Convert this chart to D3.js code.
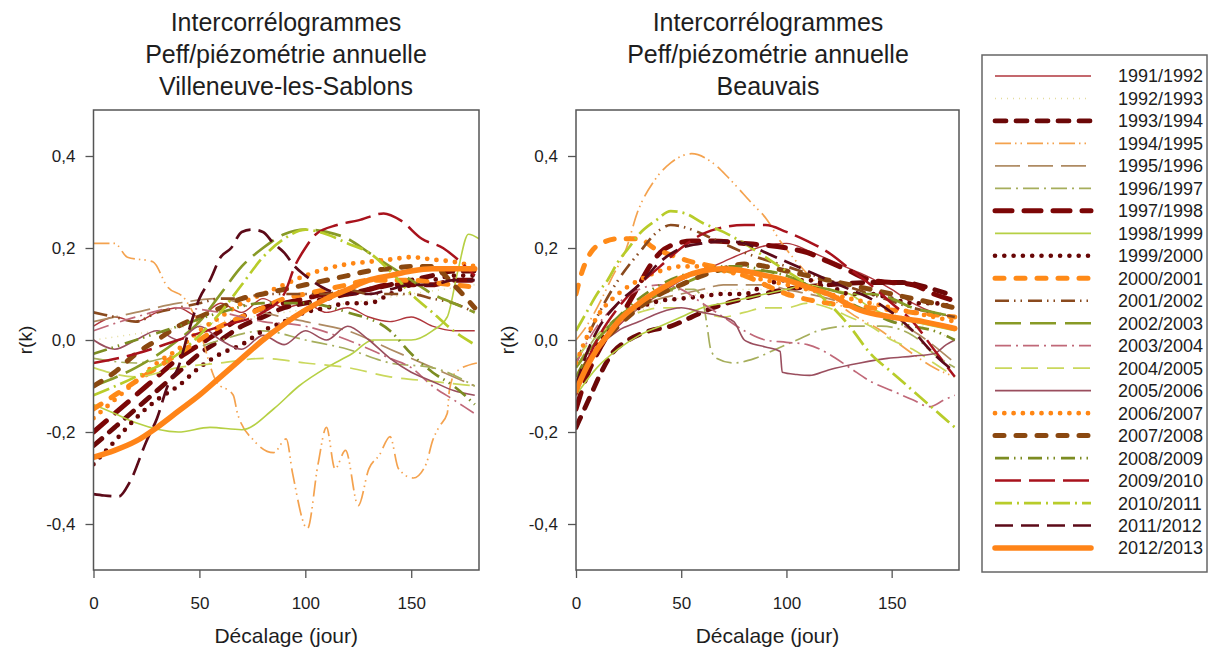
<!DOCTYPE html>
<html><head><meta charset="utf-8">
<script src="https://cdn.jsdelivr.net/npm/d3@7"></script>
<style>body{margin:0;background:#fff}svg{display:block}text{font-family:"Liberation Sans",Arial,sans-serif;fill:#1e1e1e}</style>
</head><body>
<script>
// ---------- DATA ----------
const seriesLabels = ["1991/1992","1992/1993","1993/1994","1994/1995","1995/1996","1996/1997","1997/1998","1998/1999","1999/2000","2000/2001","2001/2002","2002/2003","2003/2004","2004/2005","2005/2006","2006/2007","2007/2008","2008/2009","2009/2010","2010/2011","2011/2012","2012/2013"];
const xTickValues = [0,50,100,150];
const yTickValues = [0.4,0.2,0,-0.2,-0.4];
const panelTitles = [["Intercorrélogrammes","Peff/piézométrie annuelle","Villeneuve-les-Sablons"],["Intercorrélogrammes","Peff/piézométrie annuelle","Beauvais"]];
const xAxisTitle = "Décalage (jour)";
const yAxisTitle = "r(k)";

// Villeneuve-les-Sablons : [lag (jour), r(k)]
const villeneuve = [
 /*1991/1992*/[[0,0.03],[10,0.05],[20,0.04],[30,0.06],[40,0.07],[50,0.05],[60,0.08],[70,0.06],[80,0.09],[90,0.07],[100,0.08],[110,0.06],[120,0.07],[130,0.05],[140,0.04],[150,0.05],[160,0.03],[170,0.02],[180,0.02]],
 /*1992/1993*/[[0,0.0],[30,0.02],[60,0.04],[90,0.06],[120,0.08],[150,0.1],[180,0.12]],
 /*1993/1994*/[[0,-0.23],[10,-0.19],[20,-0.15],[30,-0.11],[40,-0.07],[50,-0.03],[60,0.0],[70,0.03],[80,0.05],[90,0.07],[100,0.08],[110,0.09],[120,0.1],[130,0.11],[140,0.12],[150,0.13],[160,0.14],[170,0.15],[180,0.15]],
 /*1994/1995*/[[0,0.21],[10,0.21],[16,0.18],[28,0.17],[35,0.115],[43,0.09],[48,0.05],[58,-0.09],[66,-0.12],[68,-0.16],[76,-0.22],[85,-0.245],[91,-0.215],[94,-0.29],[101,-0.41],[106,-0.27],[110,-0.19],[114,-0.28],[119,-0.24],[125,-0.36],[130,-0.28],[135,-0.25],[140,-0.21],[144,-0.28],[151,-0.3],[157,-0.27],[160,-0.22],[163,-0.19],[167,-0.16],[168,-0.11],[171,-0.07],[181,-0.05]],
 /*1995/1996*/[[0,0.04],[20,0.06],[40,0.08],[60,0.09],[80,0.06],[100,0.04],[120,0.02],[140,-0.02],[160,-0.06],[180,-0.1]],
 /*1996/1997*/[[0,-0.04],[20,-0.05],[40,-0.03],[60,0.0],[80,0.02],[100,0.0],[120,-0.02],[140,-0.05],[160,-0.06],[180,-0.1]],
 /*1997/1998*/[[0,-0.2],[10,-0.16],[20,-0.12],[30,-0.08],[40,-0.04],[50,-0.01],[60,0.02],[70,0.05],[80,0.07],[90,0.08],[100,0.09],[110,0.1],[120,0.1],[130,0.11],[140,0.12],[150,0.12],[160,0.12],[170,0.13],[180,0.13]],
 /*1998/1999*/[[0,-0.14],[10,-0.16],[20,-0.18],[40,-0.2],[55,-0.19],[70,-0.195],[85,-0.15],[97,-0.1],[110,-0.06],[122,-0.03],[132,0.0],[150,0.0],[160,0.02],[167,0.05],[172,0.15],[177,0.23],[182,0.22]],
 /*1999/2000*/[[0,-0.27],[10,-0.22],[20,-0.17],[30,-0.13],[40,-0.1],[50,-0.06],[60,-0.03],[70,-0.01],[80,0.02],[90,0.04],[100,0.06],[110,0.07],[120,0.08],[130,0.08],[140,0.1],[150,0.12],[160,0.13],[170,0.14],[180,0.14]],
 /*2000/2001*/[[0,-0.15],[10,-0.12],[20,-0.09],[30,-0.06],[40,-0.03],[50,0.0],[60,0.03],[70,0.05],[80,0.07],[90,0.09],[100,0.1],[110,0.11],[120,0.12],[130,0.13],[140,0.13],[150,0.13],[160,0.125],[170,0.12],[180,0.115]],
 /*2001/2002*/[[0,0.06],[10,0.05],[20,0.04],[30,0.06],[40,0.07],[50,0.08],[60,0.09],[70,0.09],[80,0.1],[90,0.1],[100,0.1],[110,0.1],[120,0.11],[130,0.1],[140,0.1],[150,0.1],[160,0.09],[170,0.08],[180,0.06]],
 /*2002/2003*/[[0,-0.1],[20,-0.06],[40,0.0],[50,0.04],[60,0.1],[70,0.16],[80,0.2],[90,0.23],[100,0.24],[110,0.235],[120,0.22],[130,0.19],[140,0.16],[150,0.13],[160,0.1],[170,0.08],[180,0.06]],
 /*2003/2004*/[[0,0.02],[20,0.05],[40,0.07],[60,0.06],[80,0.04],[100,0.03],[120,0.0],[140,-0.04],[150,-0.06],[160,-0.1],[170,-0.13],[180,-0.16]],
 /*2004/2005*/[[0,-0.06],[20,-0.08],[40,-0.06],[60,-0.05],[80,-0.04],[100,-0.05],[120,-0.06],[140,-0.08],[160,-0.09],[180,-0.1]],
 /*2005/2006*/[[0,0.0],[10,-0.02],[20,0.0],[30,0.02],[40,0.0],[50,0.03],[60,0.0],[70,-0.02],[80,0.01],[90,-0.01],[100,0.02],[110,0.0],[120,0.03],[130,0.0],[140,-0.04],[150,-0.07],[160,-0.09],[170,-0.11],[180,-0.12]],
 /*2006/2007*/[[0,-0.17],[10,-0.13],[20,-0.09],[30,-0.05],[40,-0.02],[50,0.02],[60,0.05],[70,0.08],[80,0.1],[90,0.12],[100,0.14],[110,0.155],[120,0.165],[130,0.17],[140,0.175],[150,0.18],[160,0.175],[170,0.17],[180,0.16]],
 /*2007/2008*/[[0,-0.1],[10,-0.07],[20,-0.03],[30,0.0],[40,0.03],[50,0.05],[60,0.07],[70,0.09],[80,0.1],[90,0.11],[100,0.12],[110,0.13],[120,0.14],[130,0.15],[140,0.155],[150,0.16],[160,0.16],[170,0.12],[180,0.07]],
 /*2008/2009*/[[0,-0.03],[20,0.0],[40,0.03],[60,0.06],[80,0.08],[100,0.08],[120,0.06],[140,0.02],[150,-0.03],[160,-0.07],[170,-0.1],[180,-0.14]],
 /*2009/2010*/[[0,-0.05],[20,-0.03],[40,0.0],[60,0.03],[80,0.06],[90,0.1],[95,0.16],[100,0.2],[105,0.23],[115,0.25],[125,0.26],[137,0.275],[145,0.26],[155,0.22],[165,0.2],[172,0.175],[180,0.14]],
 /*2010/2011*/[[0,-0.12],[20,-0.08],[40,-0.03],[50,0.01],[60,0.06],[70,0.12],[80,0.18],[90,0.22],[100,0.24],[110,0.23],[120,0.21],[130,0.19],[140,0.15],[150,0.1],[160,0.06],[170,0.02],[180,-0.01]],
 /*2011/2012*/[[0,-0.335],[5,-0.338],[12,-0.34],[17,-0.31],[25,-0.22],[30,-0.17],[35,-0.1],[40,-0.06],[45,0.02],[50,0.09],[55,0.13],[60,0.18],[65,0.2],[70,0.235],[75,0.24],[80,0.235],[85,0.21],[90,0.19],[95,0.16],[100,0.14],[110,0.11],[120,0.1],[130,0.1],[140,0.11],[150,0.12],[160,0.12],[170,0.13],[180,0.13]],
 /*2012/2013*/[[0,-0.255],[10,-0.24],[20,-0.22],[30,-0.19],[40,-0.155],[50,-0.12],[60,-0.08],[70,-0.04],[80,0.0],[90,0.035],[100,0.065],[110,0.09],[120,0.11],[130,0.13],[140,0.14],[150,0.15],[160,0.155],[170,0.155],[180,0.155]]
];

// Beauvais : [lag (jour), r(k)]
const beauvais = [
 /*1991/1992*/[[0,-0.08],[10,-0.02],[20,0.03],[30,0.07],[40,0.1],[50,0.13],[60,0.15],[70,0.17],[80,0.19],[90,0.205],[100,0.21],[110,0.195],[120,0.175],[130,0.155],[140,0.135],[150,0.11],[160,0.08],[170,0.06],[180,0.05]],
 /*1992/1993*/[[0,-0.02],[20,0.04],[40,0.08],[60,0.1],[80,0.11],[100,0.11],[120,0.1],[140,0.08],[160,0.04],[180,0.0]],
 /*1993/1994*/[[0,-0.19],[3,-0.16],[7,-0.12],[12,-0.07],[17,-0.03],[25,0.0],[35,0.02],[45,0.03],[55,0.05],[65,0.07],[80,0.09],[100,0.11],[120,0.12],[140,0.125],[155,0.125],[170,0.11],[180,0.095]],
 /*1994/1995*/[[0,0.0],[5,0.03],[10,0.07],[17,0.135],[24,0.2],[29,0.275],[37,0.345],[45,0.385],[55,0.405],[65,0.385],[73,0.35],[83,0.3],[91,0.26],[97,0.215],[103,0.18],[115,0.12],[130,0.06],[145,0.02],[160,-0.03],[170,-0.06],[180,-0.08]],
 /*1995/1996*/[[0,-0.06],[10,0.0],[20,0.04],[30,0.07],[40,0.09],[50,0.1],[60,0.11],[70,0.12],[80,0.12],[90,0.12],[100,0.11],[120,0.09],[140,0.06],[160,0.02],[180,-0.05]],
 /*1996/1997*/[[0,-0.06],[10,0.01],[20,0.05],[30,0.08],[40,0.1],[50,0.11],[56,0.11],[60,0.09],[62,0.04],[64,-0.02],[67,-0.04],[75,-0.05],[85,-0.04],[95,-0.02],[105,0.0],[115,0.02],[130,0.03],[145,0.03],[160,0.01],[170,-0.03],[180,-0.06]],
 /*1997/1998*/[[0,-0.15],[5,-0.08],[10,-0.03],[15,0.01],[20,0.04],[25,0.08],[30,0.12],[35,0.16],[40,0.19],[45,0.205],[55,0.215],[65,0.215],[80,0.21],[100,0.2],[110,0.19],[120,0.17],[130,0.15],[140,0.13],[150,0.125],[160,0.12],[170,0.1],[180,0.085]],
 /*1998/1999*/[[0,-0.12],[10,-0.06],[20,-0.02],[30,0.01],[40,0.03],[50,0.05],[60,0.07],[70,0.08],[80,0.09],[90,0.1],[100,0.11],[110,0.12],[120,0.11],[130,0.1],[140,0.07],[150,0.05],[160,0.04],[170,0.03],[180,0.02]],
 /*1999/2000*/[[0,-0.1],[5,-0.05],[10,-0.01],[20,0.04],[30,0.07],[40,0.085],[50,0.09],[60,0.095],[70,0.1],[80,0.1],[90,0.12],[100,0.13],[110,0.13],[120,0.12],[130,0.1],[140,0.1],[150,0.09],[160,0.08],[170,0.08],[180,0.07]],
 /*2000/2001*/[[0,0.1],[3,0.15],[7,0.19],[12,0.21],[20,0.22],[30,0.22],[37,0.2],[45,0.185],[55,0.17],[65,0.16],[80,0.14],[100,0.1],[120,0.08],[140,0.07],[160,0.06],[180,0.05]],
 /*2001/2002*/[[0,-0.05],[10,0.05],[20,0.13],[30,0.19],[40,0.24],[45,0.25],[55,0.24],[65,0.22],[80,0.19],[100,0.16],[120,0.13],[140,0.1],[160,0.07],[180,0.05]],
 /*2002/2003*/[[0,-0.06],[10,0.0],[20,0.05],[30,0.08],[40,0.1],[50,0.12],[60,0.14],[70,0.15],[80,0.15],[90,0.15],[100,0.14],[110,0.12],[120,0.11],[130,0.1],[140,0.1],[150,0.09],[160,0.07],[170,0.06],[180,0.05]],
 /*2003/2004*/[[0,-0.05],[10,0.03],[20,0.08],[30,0.11],[40,0.12],[50,0.11],[60,0.08],[70,0.05],[80,0.02],[90,0.0],[100,-0.005],[110,-0.01],[120,-0.03],[130,-0.06],[140,-0.09],[150,-0.11],[160,-0.13],[168,-0.145],[175,-0.13],[180,-0.12]],
 /*2004/2005*/[[0,-0.04],[10,0.01],[20,0.04],[30,0.06],[40,0.07],[50,0.07],[60,0.06],[70,0.05],[80,0.06],[90,0.07],[100,0.07],[110,0.08],[120,0.07],[130,0.05],[140,0.03],[150,0.0],[160,-0.02],[170,-0.05],[180,-0.08]],
 /*2005/2006*/[[0,-0.1],[5,-0.05],[10,-0.02],[20,0.02],[30,0.04],[40,0.06],[50,0.07],[60,0.06],[70,0.05],[75,0.04],[80,0.0],[82,-0.005],[90,-0.015],[97,-0.025],[98,-0.07],[105,-0.075],[111,-0.077],[120,-0.065],[135,-0.05],[148,-0.04],[160,-0.035],[170,-0.03],[176,-0.01],[180,0.0]],
 /*2006/2007*/[[0,-0.05],[10,0.05],[20,0.1],[30,0.13],[40,0.15],[50,0.16],[60,0.16],[70,0.15],[80,0.14],[100,0.12],[120,0.1],[140,0.08],[160,0.06],[180,0.04]],
 /*2007/2008*/[[0,-0.1],[5,-0.05],[10,-0.02],[20,0.03],[30,0.07],[40,0.1],[50,0.12],[60,0.14],[70,0.155],[80,0.165],[90,0.16],[100,0.15],[110,0.14],[120,0.13],[130,0.12],[140,0.11],[150,0.1],[160,0.09],[170,0.08],[180,0.07]],
 /*2008/2009*/[[0,-0.08],[10,0.0],[20,0.05],[30,0.09],[40,0.12],[50,0.14],[60,0.15],[70,0.16],[80,0.16],[90,0.15],[100,0.14],[110,0.12],[120,0.1],[130,0.08],[140,0.06],[150,0.04],[160,0.03],[170,0.02],[180,0.0]],
 /*2009/2010*/[[0,-0.12],[5,-0.05],[10,0.0],[20,0.07],[30,0.12],[40,0.16],[50,0.2],[60,0.23],[70,0.245],[80,0.25],[90,0.25],[100,0.235],[110,0.215],[120,0.19],[130,0.155],[140,0.12],[150,0.08],[160,0.04],[170,-0.02],[180,-0.08]],
 /*2010/2011*/[[0,0.02],[5,0.06],[10,0.1],[15,0.13],[20,0.17],[25,0.2],[30,0.23],[38,0.26],[45,0.28],[52,0.275],[60,0.255],[70,0.235],[80,0.21],[90,0.18],[100,0.15],[110,0.12],[120,0.08],[130,0.03],[140,-0.03],[150,-0.07],[160,-0.11],[170,-0.15],[180,-0.19]],
 /*2011/2012*/[[0,-0.1],[5,-0.03],[10,0.02],[20,0.08],[30,0.12],[40,0.17],[50,0.2],[60,0.21],[70,0.215],[80,0.21],[90,0.19],[100,0.17],[110,0.15],[120,0.13],[130,0.11],[140,0.09],[150,0.06],[160,0.02],[170,-0.03],[180,-0.07]],
 /*2012/2013*/[[0,-0.11],[5,-0.06],[10,-0.02],[15,0.01],[20,0.04],[30,0.08],[40,0.11],[50,0.135],[60,0.15],[70,0.155],[80,0.15],[90,0.14],[100,0.13],[110,0.115],[120,0.1],[135,0.065],[150,0.05],[165,0.04],[180,0.025]]
];

// ---------- STYLES ----------
const seriesColors = ["#b0363c","#e4dc9c","#6c0808","#f4a24e","#ae8a62","#a6ae5c","#7c0606","#b6d044","#680606","#ff8a18","#8a4a1e","#889a26","#c06878","#cad85c","#9a4e5e","#ff8614","#8a4810","#7c8c22","#a8121c","#b8cc2a","#5c0a18","#ff8418"];
const seriesWidths = [1.4,1.5,4.8,1.7,1.7,1.7,5,1.6,4.6,5,2.7,2.7,1.7,1.7,1.6,4.8,5,2.7,2.5,2.7,2.7,5.5];
const seriesDash = ["none","1,5","11,10","16,4,1.5,4,1.5,5","25,8","16,5,2,5","17,12","none","0,9.3","9,12","14,5,1.5,5,1.5,6","26,9","16,5,2,5","17,9","none","0,9.3","9,12","14,5,1.5,5,1.5,6","26,8","17,5,2,5","18,8","none"];
const seriesCaps = ["butt","butt","round","butt","butt","butt","round","butt","round","round","butt","butt","butt","butt","butt","round","round","butt","butt","butt","butt","round"];

// ---------- DRAW ----------
const W = 1210, H = 652;
const svg = d3.select("body").append("svg").attr("width", W).attr("height", H);
const fmt = v => (Math.abs(v) < 1e-9 ? 0 : v).toFixed(1).replace(".", ",");

const panels = [
  {data: villeneuve, x0: 93.5, x1: 479, titleX: 286, ylabX: 32},
  {data: beauvais, x0: 576, x1: 959, titleX: 768, ylabX: 514}
];
const yTop = 110, yBot = 570;
const y = d3.scaleLinear().domain([-0.5, 0.5]).range([yBot, yTop]);

panels.forEach((p, pi) => {
  const x = d3.scaleLinear().domain([0, 182]).range([p.x0, p.x1]);
  const g = svg.append("g");
  const clipId = "clip" + pi;
  svg.append("clipPath").attr("id", clipId).append("rect")
    .attr("x", p.x0).attr("y", yTop).attr("width", p.x1 - p.x0).attr("height", yBot - yTop);

  const line = d3.line().x(d => x(d[0])).y(d => y(d[1])).curve(d3.curveMonotoneX);
  const lines = g.append("g").attr("clip-path", `url(#${clipId})`);
  p.data.forEach((s, i) => {
    lines.append("path").datum(s).attr("d", line)
      .attr("fill", "none").attr("stroke", seriesColors[i])
      .attr("stroke-width", seriesWidths[i])
      .attr("stroke-dasharray", seriesDash[i])
      .attr("stroke-linecap", seriesCaps[i]).attr("stroke-linejoin", "round");
  });

  // frame
  g.append("rect").attr("x", p.x0).attr("y", yTop).attr("width", p.x1 - p.x0).attr("height", yBot - yTop)
    .attr("fill", "none").attr("stroke", "#555").attr("stroke-width", 1.5);

  // axes
  const xAxis = d3.axisBottom(x).tickValues(xTickValues).tickSize(8).tickPadding(19).tickFormat(d3.format("d"));
  const gx = g.append("g").attr("transform", `translate(0,${yBot})`).call(xAxis);
  gx.select(".domain").remove();
  const yAxis = d3.axisLeft(y).tickValues(yTickValues).tickSize(8).tickPadding(10).tickFormat(fmt);
  const gy = g.append("g").attr("transform", `translate(${p.x0},0)`).call(yAxis);
  gy.select(".domain").remove();
  [gx, gy].forEach(a => {
    a.selectAll(".tick line").attr("stroke", "#555").attr("stroke-width", 1.3);
    a.selectAll(".tick text").attr("font-size", 17).attr("fill", "#1e1e1e")
      .style("font-family", '"Liberation Sans",Arial,sans-serif');
  });

  // titles
  panelTitles[pi].forEach((t, k) => {
    g.append("text").attr("x", p.titleX).attr("y", 31 + k * 32).attr("text-anchor", "middle")
      .attr("font-size", 25).text(t);
  });
  g.append("text").attr("x", (p.x0 + p.x1) / 2).attr("y", 643).attr("text-anchor", "middle")
    .attr("font-size", 21).text(xAxisTitle);
  g.append("text").attr("transform", `translate(${p.ylabX},340) rotate(-90)`).attr("text-anchor", "middle")
    .attr("font-size", 19).text(yAxisTitle);
});

// legend
const lg = svg.append("g");
lg.append("rect").attr("x", 982).attr("y", 55).attr("width", 225).attr("height", 517)
  .attr("fill", "#fff").attr("stroke", "#666").attr("stroke-width", 1.5);
const ly = d3.scalePoint().domain(seriesLabels).range([76, 548]);
seriesLabels.forEach((lab, i) => {
  lg.append("line").attr("x1", 995).attr("x2", 1091).attr("y1", ly(lab)).attr("y2", ly(lab))
    .attr("stroke", seriesColors[i]).attr("stroke-width", seriesWidths[i])
    .attr("stroke-dasharray", seriesDash[i]).attr("stroke-linecap", seriesCaps[i]);
  lg.append("text").attr("x", 1118).attr("y", ly(lab)).attr("dy", "0.36em")
    .attr("font-size", 18).text(lab);
});
</script>
</body></html>
